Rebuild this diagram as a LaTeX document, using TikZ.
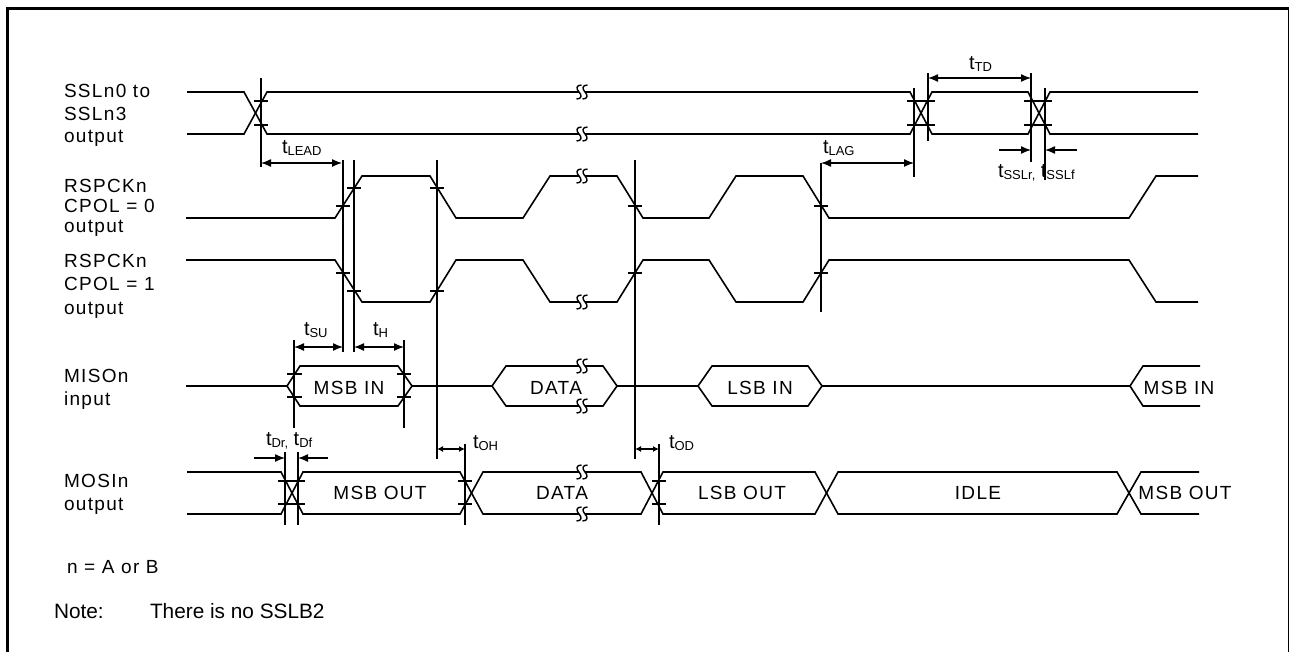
\documentclass[tikz,border=0pt]{standalone}
\usepackage{fontspec}
\setmainfont{Liberation Sans}
\usetikzlibrary{arrows.meta}
\newcommand{\subt}[1]{{\fontsize{13}{13}\selectfont\raisebox{-2pt}{#1}}}
\newcommand{\tsub}[1]{t\subt{#1}}
\tikzset{
  sig/.style={line width=1.6pt,line join=miter},
  vline/.style={line width=1.6pt},
  tick/.style={line width=1.3pt},
  dim/.style={line width=1.3pt,{Latex[length=10pt,width=8pt]}-{Latex[length=10pt,width=8pt]}},
  dimsm/.style={line width=1.3pt,{Latex[length=6pt,width=6pt]}-{Latex[length=6pt,width=6pt]}},
  dimr/.style={line width=1.3pt,-{Latex[length=10pt,width=8pt]}},
  lab/.style={anchor=base west,inner sep=0pt,outer sep=0pt,font=\fontsize{19}{19}\selectfont\addfontfeature{LetterSpace=7}},
  tlab/.style={anchor=base west,inner sep=0pt,outer sep=0pt,font=\fontsize{20}{20}\selectfont},
  inlab/.style={anchor=base,inner sep=0pt,outer sep=0pt,font=\fontsize{19}{19}\selectfont\addfontfeature{LetterSpace=7}},
  note/.style={anchor=base west,inner sep=0pt,outer sep=0pt,font=\fontsize{20.8}{20.8}\selectfont},
}
\newcommand{\brkmark}[2]{%
  \fill[white] (#1-3,#2-2) rectangle (#1+3,#2+2);
  \draw[line width=1.4pt] (#1-0.5,#2-7) .. controls (#1-6,#2-7) and (#1-6,#2-3) .. (#1-3,#2) .. controls (#1,#2+3) and (#1,#2+7) .. (#1-5.5,#2+7);
  \draw[line width=1.4pt] (#1+5.5,#2-7) .. controls (#1,#2-7) and (#1,#2-3) .. (#1+3,#2) .. controls (#1+6,#2+3) and (#1+6,#2+7) .. (#1+0.5,#2+7);
}
\newcommand{\tk}[3]{\draw[tick] (#1,#3) -- (#2,#3);}
\begin{document}
\begin{tikzpicture}[x=1pt,y=-1pt]
\useasboundingbox (0,0) rectangle (1290,653);
% frame
\draw[line width=3pt] (7.5,652) -- (7.5,8.5) -- (1288,8.5);
\draw[line width=1.5pt] (1288.7,7) -- (1288.7,652);

% SSL
\draw[sig] (187,92) -- (244,92) -- (267,134) -- (580,134);
\draw[sig] (187,134) -- (244,134) -- (267,92) -- (580,92);
\draw[sig] (580,92) -- (910,92) -- (932,134) -- (1028,134) -- (1050,92) -- (1198,92);
\draw[sig] (580,134) -- (910,134) -- (932,92) -- (1028,92) -- (1050,134) -- (1198,134);
\brkmark{582}{92}\brkmark{582}{134}
\draw[vline] (261,78) -- (261,167);
\tk{254}{268}{101}\tk{254}{268}{125}
\draw[vline] (914,88) -- (914,177);
\draw[vline] (928,73) -- (928,141);
\tk{907}{935}{101}\tk{907}{935}{125}
\draw[vline] (1031,73) -- (1031,162);
\draw[vline] (1045,88) -- (1045,180);
\tk{1024}{1052}{101}\tk{1024}{1052}{125}

% RSPCK CPOL=0
\draw[sig] (186,218) -- (335,218) -- (362,176) -- (430,176) -- (456,218) -- (523,218) -- (550,176) -- (617,176) -- (643,218) -- (709,218) -- (736,176) -- (803,176) -- (829,218) -- (1129,218) -- (1156,176) -- (1198,176);
% RSPCK CPOL=1
\draw[sig] (186,260) -- (335,260) -- (362,302) -- (430,302) -- (456,260) -- (523,260) -- (550,302) -- (617,302) -- (643,260) -- (709,260) -- (736,302) -- (803,302) -- (829,260) -- (1129,260) -- (1156,302) -- (1198,302);
\brkmark{582}{176}\brkmark{582}{302}
\draw[vline] (343,160) -- (343,352);
\draw[vline] (354,160) -- (354,352);
\draw[vline] (437,160) -- (437,459);
\draw[vline] (635,160) -- (635,459);
\draw[vline] (821,163) -- (821,312);
\tk{336}{350}{206}\tk{347}{361}{188}
\tk{336}{350}{273}\tk{347}{361}{291}
\tk{430}{444}{188}\tk{430}{444}{291}
\tk{628}{642}{206}\tk{628}{642}{273}
\tk{814}{828}{206}\tk{814}{828}{273}

% MISO
\draw[sig] (186,386) -- (287,386) -- (300,366) -- (398,366) -- (412,386) -- (398,406) -- (300,406) -- (287,386);
\draw[sig] (412,386) -- (492,386) -- (506,366) -- (603,366) -- (617,386) -- (603,406) -- (506,406) -- (492,386);
\draw[sig] (617,386) -- (698,386) -- (712,366) -- (808,366) -- (822,386) -- (808,406) -- (712,406) -- (698,386);
\draw[sig] (822,386) -- (1130,386) -- (1143,366) -- (1200,366);
\draw[sig] (1130,386) -- (1143,406) -- (1200,406);
\brkmark{582}{366}\brkmark{582}{406}
\draw[vline] (294,340) -- (294,428);
\draw[vline] (404,340) -- (404,428);
\tk{287}{302}{374}\tk{287}{302}{397}
\tk{397}{411}{374}\tk{397}{411}{397}

% MOSI
\draw[sig] (187,472) -- (281,472) -- (303,514) -- (460,514) -- (483,472) -- (641,472) -- (663,514) -- (815,514) -- (838,472) -- (1117,472) -- (1141,514) -- (1199,514);
\draw[sig] (187,514) -- (281,514) -- (303,472) -- (460,472) -- (483,514) -- (641,514) -- (663,472) -- (815,472) -- (838,514) -- (1117,514) -- (1141,472) -- (1199,472);
\brkmark{582}{472}\brkmark{582}{514}
\draw[vline] (285,452) -- (285,525);
\draw[vline] (298,452) -- (298,525);
\tk{278}{305}{481}\tk{278}{305}{504}
\draw[vline] (465,444) -- (465,525);
\tk{458}{472}{481}\tk{458}{472}{504}
\draw[vline] (659,444) -- (659,525);
\tk{652}{666}{481}\tk{652}{666}{504}

% dimension arrows
\coordinate (leadA) at (261,163); \coordinate (leadB) at (342,163);
\draw[dim] (leadA) -- (leadB);
\coordinate (lagA) at (821,163); \coordinate (lagB) at (914,163);
\draw[dim] (lagA) -- (lagB);
\coordinate (tdA) at (928,78); \coordinate (tdB) at (1031,78);
\draw[dim] (tdA) -- (tdB);
\coordinate (srA) at (999,150); \coordinate (srB) at (1031,150);
\draw[dimr] (srA) -- (srB);
\coordinate (sfA) at (1077,150); \coordinate (sfB) at (1045,150);
\draw[dimr] (sfA) -- (sfB);
\coordinate (suA) at (294,347); \coordinate (suB) at (343,347);
\draw[dim] (suA) -- (suB);
\coordinate (hA) at (354,347); \coordinate (hB) at (404,347);
\draw[dim] (hA) -- (hB);
\coordinate (drA) at (254,458); \coordinate (drB) at (285,458);
\draw[dimr] (drA) -- (drB);
\coordinate (dfA) at (328,458); \coordinate (dfB) at (298,458);
\draw[dimr] (dfA) -- (dfB);
\coordinate (ohA) at (437,449); \coordinate (ohB) at (465,449);
\draw[dimsm] (ohA) -- (ohB);
\coordinate (odA) at (635,449); \coordinate (odB) at (659,449);
\draw[dimsm] (odA) -- (odB);

% timing labels
\node[tlab] (tlead) at (282,153) {\tsub{LEAD}};
\node[tlab] (tlag) at (823,153) {\tsub{LAG}};
\node[tlab] (ttd) at (969,69) {\tsub{TD}};
\node[tlab] (tssl) at (998,177) {\tsub{SSLr,} \tsub{SSLf}};
\node[tlab] (tsu) at (304,335) {\tsub{SU}};
\node[tlab] (th) at (373,335) {\tsub{H}};
\node[tlab] (tdrf) at (266,445) {\tsub{Dr,} \tsub{Df}};
\node[tlab] (toh) at (473,448) {\tsub{OH}};
\node[tlab] (tod) at (669,448) {\tsub{OD}};

% in-signal labels
\node[inlab] (misoA) at (349,394) {MSB IN};
\node[inlab] (misoB) at (556,394) {DATA};
\node[inlab] (misoC) at (760,394) {LSB IN};
\node[inlab] (misoD) at (1179,394) {MSB IN};
\node[inlab] (mosiA) at (380,499) {MSB OUT};
\node[inlab] (mosiB) at (562,499) {DATA};
\node[inlab] (mosiC) at (742,499) {LSB OUT};
\node[inlab] (mosiD) at (978,499) {IDLE};
\node[inlab] (mosiE) at (1185,499) {MSB OUT};

% left labels
\node[lab] (l1a) at (64,97.3) {SSLn0 to};
\node[lab] (l1b) at (64,120) {SSLn3};
\node[lab] (l1c) at (64,142.7) {output};
\node[lab] (l2a) at (64,192.5) {RSPCKn};
\node[lab] (l2b) at (64,212) {CPOL = 0};
\node[lab] (l2c) at (64,232) {output};
\node[lab] (l3a) at (64,267.5) {RSPCKn};
\node[lab] (l3b) at (64,290.5) {CPOL = 1};
\node[lab] (l3c) at (64,314.5) {output};
\node[lab] (l4a) at (64,382) {MISOn};
\node[lab] (l4b) at (64,405) {input};
\node[lab] (l5a) at (64,487) {MOSIn};
\node[lab] (l5b) at (64,510) {output};

% notes
\node[lab] (n1) at (67,573) {n = A or B};
\node[note] (n2) at (54,618) {Note:};
\node[note] (n3) at (150,618) {There is no SSLB2};
\end{tikzpicture}
\end{document}
